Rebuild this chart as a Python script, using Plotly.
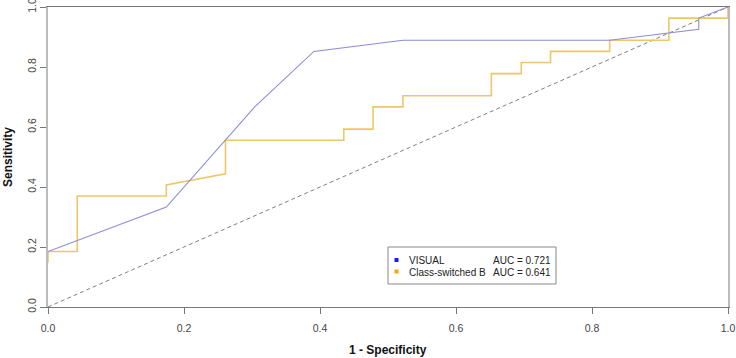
import plotly.graph_objects as go

# ---- data ----
series_names = ["VISUAL", "Class-switched B"]
auc_values = [0.721, 0.641]

visual_fpr = [0.0, 0.174, 0.304, 0.391, 0.522, 0.826, 0.957, 0.957, 1.0]
visual_tpr = [0.185, 0.333, 0.667, 0.852, 0.889, 0.889, 0.926, 0.963, 1.0]

classb_fpr = [0.0, 0.0, 0.043, 0.043, 0.174, 0.174, 0.261, 0.261, 0.435, 0.435,
              0.478, 0.478, 0.522, 0.522, 0.652, 0.652, 0.696, 0.696, 0.739, 0.739,
              0.826, 0.826, 0.913, 0.913, 1.0, 1.0]
classb_tpr = [0.148, 0.185, 0.185, 0.370, 0.370, 0.407, 0.444, 0.556, 0.556, 0.593,
              0.593, 0.667, 0.667, 0.704, 0.704, 0.778, 0.778, 0.815, 0.815, 0.852,
              0.852, 0.889, 0.889, 0.963, 0.963, 1.0]

ref_x = [0.0, 1.0]
ref_y = [0.0, 1.0]

tick_vals = [0.0, 0.2, 0.4, 0.6, 0.8, 1.0]
tick_text = ["0.0", "0.2", "0.4", "0.6", "0.8", "1.0"]

line_colors = ["#8c8cd8", "#eec66a"]
key_colors = ["#1a1aff", "#ffa500"]

W, H = 736, 358
L, R, T, B = 48, 8, 7, 51
PW, PH = W - L - R, H - T - B

def px_x(p):
    return (p - L) / PW

def px_y(p):
    return (H - B - p) / PH

FONT = "Liberation Sans, Arial, Helvetica, sans-serif"

fig = go.Figure()
fig.add_trace(go.Scatter(x=ref_x, y=ref_y, mode="lines",
                         line=dict(color="#808080", width=1, dash="4px,3px"),
                         showlegend=False, hoverinfo="skip"))
fig.add_trace(go.Scatter(x=classb_fpr, y=classb_tpr, mode="lines",
                         line=dict(color=line_colors[1], width=1.6),
                         name=series_names[1], showlegend=False))
fig.add_trace(go.Scatter(x=visual_fpr, y=visual_tpr, mode="lines",
                         line=dict(color=line_colors[0], width=1.1),
                         name=series_names[0], showlegend=False))

# ---- manual legend (R-style) ----
shapes = [dict(type="rect", xref="paper", yref="paper",
               x0=px_x(388), x1=px_x(556), y0=px_y(284), y1=px_y(247),
               line=dict(color="#8a8a8a", width=1), fillcolor="white", layer="above")]
annotations = []
row_y = [260.5, 272]
for i, name in enumerate(series_names):
    shapes.append(dict(type="rect", xref="paper", yref="paper",
                       xsizemode="pixel", ysizemode="pixel",
                       xanchor=px_x(396.5), yanchor=px_y(row_y[i] - 0.5),
                       x0=-2, x1=2, y0=-2, y1=2,
                       line=dict(width=0), fillcolor=key_colors[i], layer="above"))
    annotations.append(dict(xref="paper", yref="paper", x=px_x(407), y=px_y(row_y[i]),
                            text=name, showarrow=False, xanchor="left", yanchor="middle",
                            font=dict(family=FONT, size=10, color="#222")))
    annotations.append(dict(xref="paper", yref="paper", x=px_x(491), y=px_y(row_y[i]),
                            text=f"AUC = {auc_values[i]:.3f}", showarrow=False,
                            xanchor="left", yanchor="middle",
                            font=dict(family=FONT, size=10, color="#222")))

# axis titles
annotations.append(dict(xref="paper", yref="paper", x=px_x(388), y=px_y(350),
                        text="<b>1 - Specificity</b>", showarrow=False,
                        xanchor="center", yanchor="middle",
                        font=dict(family=FONT, size=12, color="#111")))
annotations.append(dict(xref="paper", yref="paper", x=px_x(8), y=px_y(157),
                        text="<b>Sensitivity</b>", showarrow=False, textangle=-90,
                        xanchor="center", yanchor="middle",
                        font=dict(family=FONT, size=12, color="#111")))

fig.update_layout(
    width=W, height=H,
    margin=dict(l=L, r=R, t=T, b=B, autoexpand=False),
    plot_bgcolor="white", paper_bgcolor="white",
    showlegend=False,
    shapes=shapes, annotations=annotations,
    font=dict(family=FONT, size=10, color="#444"),
)
fig.update_xaxes(range=[0, 1], showgrid=False, zeroline=False,
                 showline=True, linecolor="#777777", linewidth=1, mirror=True,
                 ticks="outside", ticklen=6, tickcolor="#777777", tickwidth=1,
                 ticklabelstandoff=5, ticklabeloverflow="allow",
                 tickvals=tick_vals, ticktext=tick_text,
                 tickfont=dict(family=FONT, size=10.5, color="#444"))
fig.update_yaxes(range=[0, 1], showgrid=False, zeroline=False,
                 showline=True, linecolor="#bbbbbb", linewidth=2, mirror=True,
                 ticks="outside", ticklen=6, tickcolor="#777777", tickwidth=1,
                 ticklabeloverflow="allow",
                 tickvals=tick_vals, ticktext=tick_text, tickangle=-90,
                 tickfont=dict(family=FONT, size=10.5, color="#444"))

fig.write_html("out.html", config={"displayModeBar": False},
               post_script="document.body.style.margin='0px';document.body.style.overflow='hidden';")
